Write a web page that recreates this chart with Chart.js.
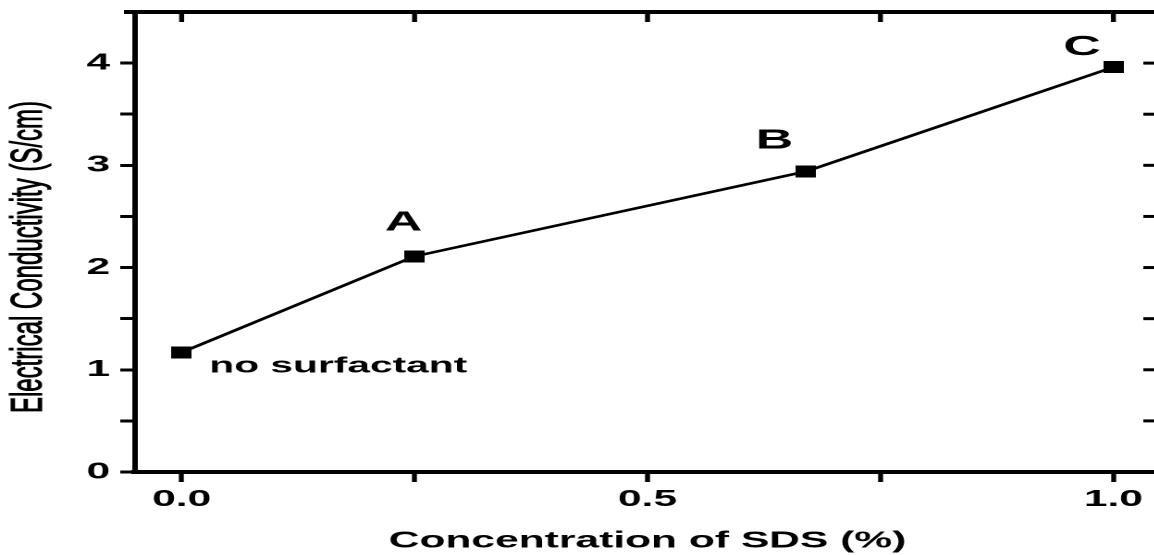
<!DOCTYPE html>
<html>
<head>
<meta charset="utf-8">
<script src="https://cdn.jsdelivr.net/npm/chart.js@4"></script>
<style>
    html, body { margin: 0; padding: 0; background: #fff; overflow: hidden; }
    #wrap { width: 1154px; height: 555px; overflow: hidden; position: relative; background: #fff; }
    /* the original figure is stretched sideways, so draw narrow and scale it */
    #inner { position: absolute; left: 0; top: 0; width: 632px; height: 555px; transform: scaleX(1.85); transform-origin: 0 0; }
</style>
</head>
<body>
<div id="wrap">
    <div id="inner">
        <canvas id="myChart" width="632" height="555"></canvas>
    </div>
</div>
<script>
// data
const concentration = [0.0, 0.25, 0.67, 1.0];
const conductivity = [1.17, 2.11, 2.94, 3.96];
const pointNames = ["no surfactant", "A", "B", "C"];

const xTicks = [0.0, 0.25, 0.5, 0.75, 1.0];
const xTickLabels = [0.0, 0.5, 1.0];
const yTicks = [0, 0.5, 1, 1.5, 2, 2.5, 3, 3.5, 4];
const yTickLabels = [0, 1, 2, 3, 4];

const FONT = "'Liberation Sans', Arial, sans-serif";

// where each name sits relative to its point (logical px)
const nameOffsets = [
    { dx: 15, dy: 20, align: "left", font: "bold 22px " + FONT },
    { dx: -6, dy: -26, align: "center", font: "bold 28px " + FONT },
    { dx: -17, dy: -23, align: "center", font: "bold 28px " + FONT },
    { dx: -17, dy: -12, align: "center", font: "bold 28px " + FONT },
];

let marker = document.createElement("canvas");
marker.width = 11;
marker.height = 12;
let mctx = marker.getContext("2d");
mctx.fillStyle = "#000";
mctx.fillRect(0, 0, 11, 12);

let frame = {
    id: "frame",
    afterDraw: (chart) => {
        let ctx = chart.ctx;
        let a = chart.chartArea;
        let xs = chart.scales.x;
        let ys = chart.scales.y;
        ctx.save();
        ctx.strokeStyle = "#000";
        // top and right axis lines
        ctx.lineWidth = 4;
        ctx.beginPath();
        ctx.moveTo(a.left - 6, a.top);
        ctx.lineTo(a.right + 2, a.top);
        ctx.stroke();
        ctx.lineWidth = 3;
        ctx.beginPath();
        ctx.moveTo(a.right, a.top);
        ctx.lineTo(a.right, a.bottom);
        ctx.stroke();
        // inward ticks
        ctx.lineWidth = 2.7;
        xTicks.forEach((v) => {
            let px = xs.getPixelForValue(v);
            ctx.beginPath();
            ctx.moveTo(px, a.top);
            ctx.lineTo(px, a.top + 10);
            ctx.stroke();
        });
        ctx.lineWidth = 3;
        yTicks.forEach((v) => {
            let py = ys.getPixelForValue(v);
            ctx.beginPath();
            ctx.moveTo(a.right - 9, py);
            ctx.lineTo(a.right, py);
            ctx.stroke();
        });
        // point names
        ctx.fillStyle = "#000";
        ctx.textBaseline = "alphabetic";
        pointNames.forEach((name, i) => {
            let o = nameOffsets[i];
            ctx.font = o.font;
            ctx.textAlign = o.align;
            ctx.fillText(name, xs.getPixelForValue(concentration[i]) + o.dx, ys.getPixelForValue(conductivity[i]) + o.dy);
        });
        // y axis title
        ctx.font = "24px " + FONT;
        ctx.textAlign = "center";
        ctx.textBaseline = "middle";
        ctx.translate(16, 257);
        ctx.rotate(-Math.PI / 2);
        ctx.lineWidth = 0.6;
        ctx.fillText("Electrical Conductivity (S/cm)", 0, 0);
        ctx.strokeText("Electrical Conductivity (S/cm)", 0, 0);
        ctx.restore();
    },
};

let ctx = document.getElementById("myChart").getContext("2d");
let myChart = new Chart(ctx, {
    type: "scatter",
    data: {
        datasets: [
            {
                label: "Conductivity",
                data: concentration.map((x, i) => ({ x: x, y: conductivity[i] })),
                showLine: true,
                borderColor: "#000",
                backgroundColor: "#000",
                borderWidth: 2.5,
                pointStyle: marker,
                pointRadius: 6,
            },
        ],
    },
    options: {
        responsive: false,
        animation: false,
        devicePixelRatio: 2,
        layout: { autoPadding: false, padding: { top: 12, right: 5, left: 0, bottom: 0 } },
        plugins: {
            legend: { display: false },
            tooltip: { enabled: false },
        },
        scales: {
            x: {
                type: "linear",
                min: -0.05,
                max: 1.05,
                afterBuildTicks: (scale) => {
                    scale.ticks = xTicks.map((v) => ({ value: v }));
                },
                afterFit: (scale) => {
                    scale.height = 83;
                    scale.paddingLeft = 0;
                    scale.paddingRight = 0;
                },
                grid: {
                    drawOnChartArea: false,
                    drawTicks: true,
                    tickLength: 10,
                    tickWidth: 2.7,
                    tickColor: "#000",
                },
                border: { display: true, color: "#000", width: 4 },
                ticks: {
                    autoSkip: false,
                    maxRotation: 0,
                    padding: 4,
                    color: "#000",
                    font: { family: FONT, size: 23, weight: "bold" },
                    callback: (value) => (xTickLabels.includes(value) ? value.toFixed(1) : ""),
                },
                title: {
                    display: true,
                    text: "Concentration of SDS (%)",
                    color: "#000",
                    padding: { top: 0, bottom: 0 },
                    font: { family: FONT, size: 23, weight: "bold" },
                },
            },
            y: {
                type: "linear",
                min: 0,
                max: 4.5,
                afterBuildTicks: (scale) => {
                    scale.ticks = yTicks.map((v) => ({ value: v }));
                },
                afterFit: (scale) => {
                    scale.width = 73;
                    scale.paddingTop = 0;
                    scale.paddingBottom = 0;
                },
                grid: {
                    drawOnChartArea: false,
                    drawTicks: true,
                    tickLength: 8,
                    tickWidth: 3,
                    tickColor: "#000",
                },
                border: { display: true, color: "#000", width: 3 },
                ticks: {
                    autoSkip: false,
                    padding: 5.5,
                    color: "#000",
                    font: { family: FONT, size: 23, weight: "bold" },
                    callback: (value) => (yTickLabels.includes(value) ? String(value) : ""),
                },
            },
        },
    },
    plugins: [frame],
});
</script>
</body>
</html>
